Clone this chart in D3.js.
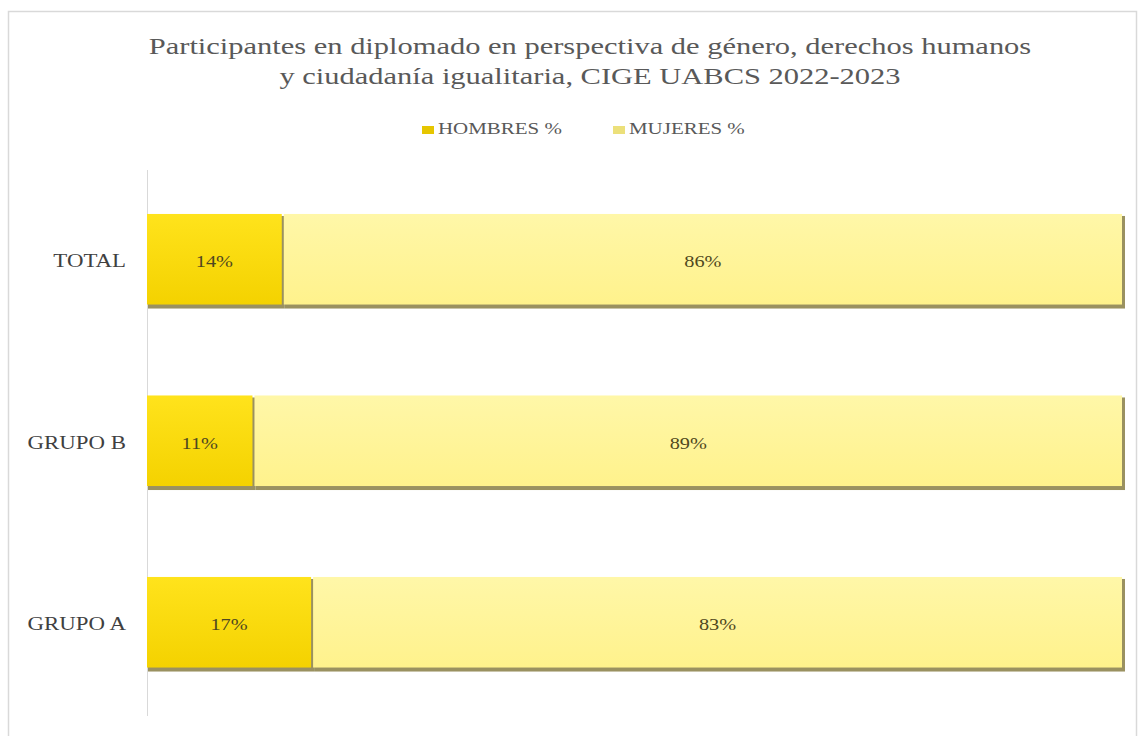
<html>
  <head>
    <meta charset="utf-8">
    <title>Participantes diplomado CIGE UABCS</title>
    <style>
      body { margin: 0; background: #ffffff; }
    </style>
  </head>
  <body>
    <script src="https://d3js.org/d3.v7.min.js"></script>
    <script>
      var categories = ["TOTAL", "GRUPO B", "GRUPO A"];
      var hombres = [14, 11, 17];
      var mujeres = [86, 89, 83];
      var seriesNames = ["HOMBRES %", "MUJERES %"];
      var titleLines = ["Participantes en diplomado en perspectiva de género, derechos humanos",
                        "y ciudadanía igualitaria, CIGE UABCS 2022-2023"];

      var serif = "'Liberation Serif', 'Times New Roman', serif";
      var sx = 1.27; // the original chart is stretched sideways
      var w = 1140, h = 736;
      var svg = d3.select("body").append("svg")
                  .attr("width", w)
                  .attr("height", h);

      var defs = svg.append("defs");
      var gH = defs.append("linearGradient").attr("id", "gH")
                   .attr("x1", 0).attr("y1", 0).attr("x2", 0).attr("y2", 1);
      gH.append("stop").attr("offset", "0%").attr("stop-color", "#ffe31c");
      gH.append("stop").attr("offset", "100%").attr("stop-color", "#f4d200");
      var gM = defs.append("linearGradient").attr("id", "gM")
                   .attr("x1", 0).attr("y1", 0).attr("x2", 0).attr("y2", 1);
      gM.append("stop").attr("offset", "0%").attr("stop-color", "#fff7a8");
      gM.append("stop").attr("offset", "100%").attr("stop-color", "#fff28c");
      var colors = ["url(#gH)", "url(#gM)"];
      var swatch = ["#e6c600", "#ece07a"];

      // chart border
      svg.append("rect")
         .attr("x", 8.5).attr("y", 11.5)
         .attr("width", 1128).attr("height", 740)
         .attr("fill", "none")
         .attr("stroke", "#d9d9d9")
         .attr("stroke-width", 1.5);

      // title
      svg.selectAll("text.title")
         .data(titleLines)
         .enter()
         .append("text")
         .attr("class", "title")
         .attr("transform", function(d, i){ return "translate(590," + (54 + i * 30) + ") scale(" + sx + ",1)"; })
         .attr("text-anchor", "middle")
         .attr("fill", "#595959")
         .style("font-family", serif)
         .style("font-size", "24px")
         .text(function(d){ return d; });

      var x = d3.scaleLinear().domain([0, 100]).range([147, 1124]);
      var y = d3.scaleBand().domain(categories).range([169.5, 714]).paddingInner(0.49).paddingOuter(0.245);

      // legend
      var legendX = [422, 613];
      var legend = svg.selectAll("g.legend")
                      .data(seriesNames)
                      .enter()
                      .append("g")
                      .attr("class", "legend")
                      .attr("transform", function(d, i){ return "translate(" + legendX[i] + ",134)"; });
      legend.append("rect")
            .attr("x", 0).attr("y", -8)
            .attr("width", 12).attr("height", 8)
            .attr("fill", function(d, i){ return swatch[i]; });
      legend.append("text")
            .attr("transform", "translate(16,0) scale(" + sx + ",1)")
            .attr("fill", "#595959")
            .style("font-family", serif)
            .style("font-size", "16.5px")
            .text(function(d){ return d; });

      // y axis line
      svg.append("line")
         .attr("x1", 147.5).attr("x2", 147.5)
         .attr("y1", 170).attr("y2", 716)
         .attr("stroke", "#d9d9d9")
         .attr("stroke-width", 1);

      var yAxis = d3.axisLeft(y).tickSize(0).tickPadding(21);
      var ya = svg.append("g")
                  .attr("transform", "translate(147,0)")
                  .call(yAxis);
      ya.select(".domain").remove();
      ya.selectAll("text")
        .attr("x", -21 / sx)
        .attr("dy", "0.4em")
        .attr("transform", "scale(" + sx + ",1)")
        .attr("fill", "#404040")
        .style("font-size", "18px")
        .style("font-family", serif);

      var rows = categories.map(function(c, i){
        return [
          { cat: c, s: 0, x0: 0, x1: hombres[i], v: hombres[i] },
          { cat: c, s: 1, x0: hombres[i], x1: hombres[i] + mujeres[i], v: mujeres[i] }
        ];
      });
      var segs = d3.merge(rows);

      // shadow under the bars
      svg.selectAll("rect.shadow")
         .data(segs)
         .enter()
         .append("rect")
         .attr("class", "shadow")
         .attr("x", function(d){ return x(d.x0) + 1; })
         .attr("y", function(d){ return y(d.cat) + 2; })
         .attr("width", function(d){ return x(d.x1) - x(d.x0); })
         .attr("height", y.bandwidth())
         .attr("fill", "#9a9160");

      svg.selectAll("rect.bar")
         .data(segs)
         .enter()
         .append("rect")
         .attr("class", "bar")
         .attr("x", function(d){ return x(d.x0); })
         .attr("y", function(d){ return y(d.cat); })
         .attr("width", function(d){ return x(d.x1) - x(d.x0) - 2; })
         .attr("height", y.bandwidth() - 2)
         .attr("fill", function(d){ return colors[d.s]; });

      svg.selectAll("text.val")
         .data(segs)
         .enter()
         .append("text")
         .attr("class", "val")
         .attr("transform", function(d){
           return "translate(" + ((x(d.x0) + x(d.x1)) / 2 - 1) + "," + (y(d.cat) + y.bandwidth() / 2 + 7) + ") scale(" + sx + ",1)";
         })
         .attr("text-anchor", "middle")
         .attr("fill", "#4f4820")
         .style("font-family", serif)
         .style("font-size", "16px")
         .text(function(d){ return d.v + "%"; });
    </script>
  </body>
</html>
